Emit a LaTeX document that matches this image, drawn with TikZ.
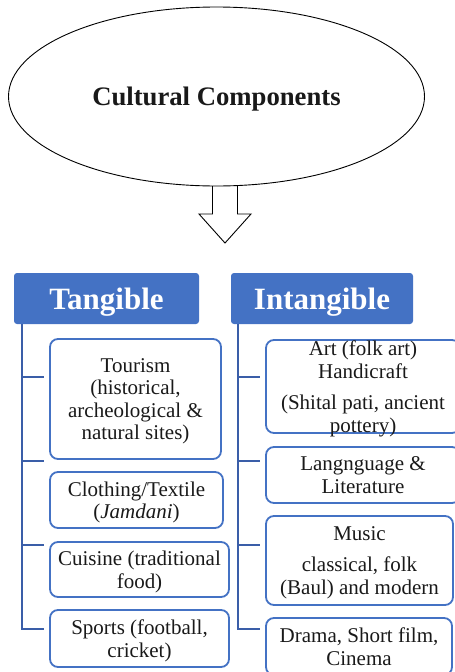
\documentclass[tikz,border=0pt]{standalone}
\usepackage{fontspec}
\setmainfont{Liberation Serif}
\usetikzlibrary{shapes.geometric}
\definecolor{boxblue}{HTML}{4472C4}
\definecolor{linkblue}{HTML}{3A5EA8}
\newcommand{\bodysize}{\fontsize{21}{22.5}\selectfont}

\begin{document}
\begin{tikzpicture}[x=1pt,y=-1pt,
  item/.style={draw=boxblue, line width=1.8pt, rounded corners=8pt, align=center, inner sep=0pt, text depth=0pt, font=\bodysize, text=black!90},
  head/.style={fill=boxblue, rounded corners=3pt, text=white, font=\fontsize{31}{34}\selectfont\bfseries, minimum width=185pt, minimum height=51pt, inner sep=0pt, text depth=0pt},
  conn/.style={draw=linkblue, line width=2.6pt}]
\useasboundingbox (0,0) rectangle (455,672);
\clip (0,0) rectangle (455,672);
% top
\node [draw, ellipse, line width=0.9pt, minimum width=416pt, minimum height=179pt, font=\fontsize{26.7}{30}\selectfont\bfseries, text=black!90, text depth=0pt, name=comp] at (216.5,96.5) {Cultural Components};
\draw [line width=0.9pt] (212.5,186) -- (212.5,214) -- (199,214) -- (225,243) -- (251,214) -- (237.5,214) -- (237.5,186);
% headers
\node [head, name=tang] at (106.5,298.5) {Tangible};
\node [head, minimum width=182pt, name=intg] at (322,298.5) {Intangible};
% tangible side
\node [item, minimum width=171pt, minimum height=120pt, name=t1] at (135.5,399) {Tourism\\(historical,\\archeological \&\\natural sites)};
\node [item, minimum width=173pt, minimum height=56pt, name=t2] at (136.5,500) {Clothing/Textile\\(\textit{Jamdani})};
\node [item, minimum width=179pt, minimum height=55pt, name=t3] at (139.5,569.5) {Cuisine (traditional\\food)};
\node [item, minimum width=179pt, minimum height=57pt, name=t4] at (139.5,638.5) {Sports (football,\\cricket)};
% intangible side
\node [item, minimum width=194pt, minimum height=93pt, name=i1] at (363,386.5) {Art (folk art)\\Handicraft\\[9pt](Shital pati, ancient\\pottery)};
\node [item, minimum width=194pt, minimum height=56pt, name=i2] at (363,475) {Langnguage \&\\Literature};
\node [item, minimum width=187pt, minimum height=89pt, name=i3] at (359.5,560.5) {Music\\[9pt]classical, folk\\(Baul) and modern};
\node [item, minimum width=186pt, minimum height=57pt, name=i4] at (359,646.5) {Drama, Short film,\\Cinema};
% tree lines
\coordinate (lv) at ([xshift=8pt]tang.south west);
\coordinate (rv) at ([xshift=7pt]intg.south west);
\coordinate (lt1) at (44,377);
\coordinate (lt2) at (44,461);
\coordinate (lt3) at (44,545);
\coordinate (lt4) at (44,629);
\coordinate (rt1) at (260,377);
\coordinate (rt2) at (260,461);
\coordinate (rt3) at (260,545);
\coordinate (rt4) at (260,629);
\draw [conn] (lv) |- (lt4);
\draw [conn] (lt1 -| lv) -- (lt1);
\draw [conn] (lt2 -| lv) -- (lt2);
\draw [conn] (lt3 -| lv) -- (lt3);
\draw [conn] (rv) |- (rt4);
\draw [conn] (rt1 -| rv) -- (rt1);
\draw [conn] (rt2 -| rv) -- (rt2);
\draw [conn] (rt3 -| rv) -- (rt3);
\end{tikzpicture}
\end{document}
